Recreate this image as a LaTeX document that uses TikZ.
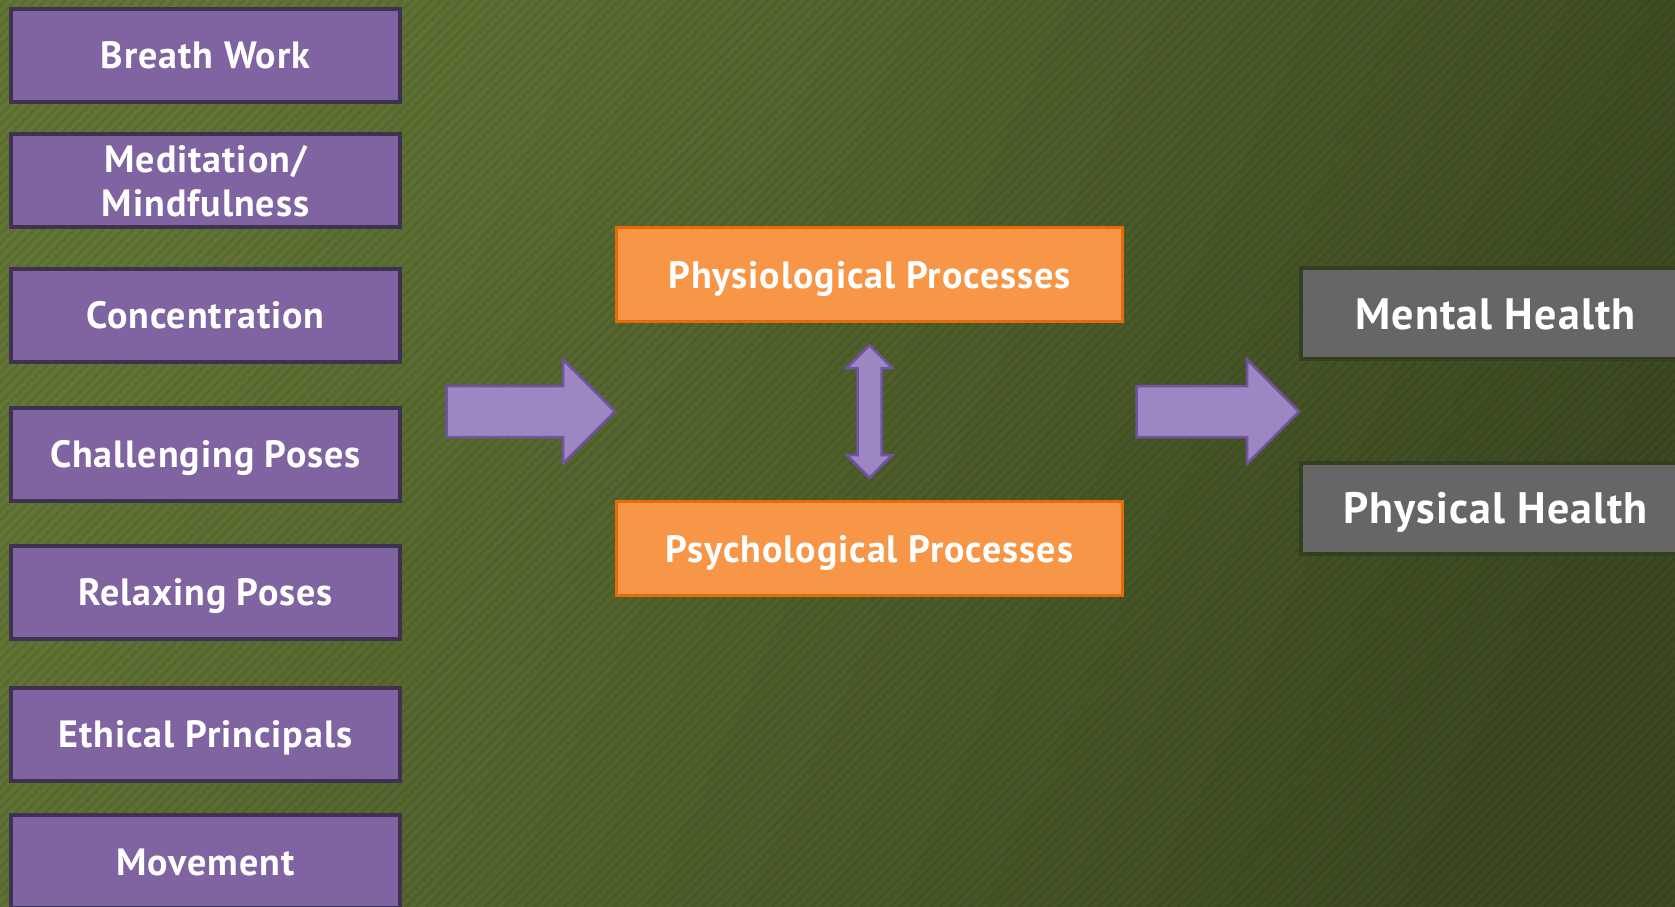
\documentclass[tikz,border=0pt]{standalone}
\usepackage{fontspec}
\setmainfont{PT Sans}[LetterSpace=2.5]
\usetikzlibrary{shapes.arrows,calc,patterns.meta}

\definecolor{bgtop}{HTML}{627535}
\definecolor{bgbot}{HTML}{3C4921}
\definecolor{yogafill}{HTML}{8064A2}
\definecolor{yogaline}{HTML}{3F3151}
\definecolor{procfill}{HTML}{F79646}
\definecolor{procline}{HTML}{E46C0A}
\definecolor{healthfill}{HTML}{666666}
\definecolor{healthline}{HTML}{343F20}
\definecolor{arrowfill}{HTML}{9E86C2}
\definecolor{arrowline}{HTML}{7153A3}

\tikzset{
	yoga/.style={draw=yogaline, fill=yogafill, line width=4pt, minimum width=389pt, minimum height=93pt,
		text=white, font=\fontsize{38}{44}\selectfont\bfseries, align=center, text height=27pt, text depth=0pt},
	process/.style={draw=procline, fill=procfill, line width=3pt, minimum width=506pt, minimum height=94pt,
		text=white, font=\fontsize{38}{44}\selectfont\bfseries, text height=27pt, text depth=0pt},
	health/.style={draw=healthline, fill=healthfill, line width=4pt, minimum width=389pt, minimum height=91pt,
		text=white, font=\fontsize{44}{50}\selectfont\bfseries, text height=31pt, text depth=0pt},
	blockarrow/.style={single arrow, draw=arrowline, fill=arrowfill, line width=2.5pt, inner xsep=0pt,
		inner ysep=24.25pt, single arrow head extend=26.5pt, outer sep=0pt, anchor=tip},
	linkarrow/.style={double arrow, rotate=90, draw=arrowline, fill=arrowfill, line width=2.5pt, inner xsep=0pt,
		inner ysep=10.75pt, double arrow head extend=10.75pt, minimum height=132.5pt, outer sep=0pt}
}

\begin{document}
\begin{tikzpicture}[x=1pt, y=-1pt]
	\useasboundingbox (0,0) rectangle (1675,907);
	\clip (0,0) rectangle (1675,907);
	\shade[top color=bgtop, bottom color=bgbot, shading angle=65] (0,0) rectangle (1675,907);
	\fill[pattern={Lines[angle=45, distance=7pt, line width=2.5pt]}, pattern color=black, opacity=0.07] (0,0) rectangle (1675,907);

	% practices
	\foreach \y/\nm/\txt in {55.5/breath/Breath Work, 315/conc/Concentration, 454/chall/Challenging Poses,
		592/relax/Relaxing Poses, 734/ethic/Ethical Principals, 861.5/move/Movement}{
		\node[yoga] (\nm) at (205.5,\y) {\txt};
	}
	\node[yoga, text height=71pt] (medit) at (205.5,180.5) {Meditation/\\Mindfulness};

	% processes
	\node[process] (physio) at (869.5,274.5) {Physiological Processes};
	\node[process] (psycho) at (869.5,548.5) {Psychological Processes};
	\node[linkarrow] (link) at ($(physio.south)!0.5!(psycho.north)$) {};

	% outcomes
	\node[health] (mental) at (1495.5,313.5) {Mental Health};
	\node[health] (physical) at (1495.5,508) {Physical Health};

	\node[blockarrow, minimum height=168.5pt] (inarrow) at (link -| physio.west) {};
	\node[blockarrow, minimum height=162.5pt] (outarrow) at (link -| mental.west) {};
\end{tikzpicture}
\end{document}
